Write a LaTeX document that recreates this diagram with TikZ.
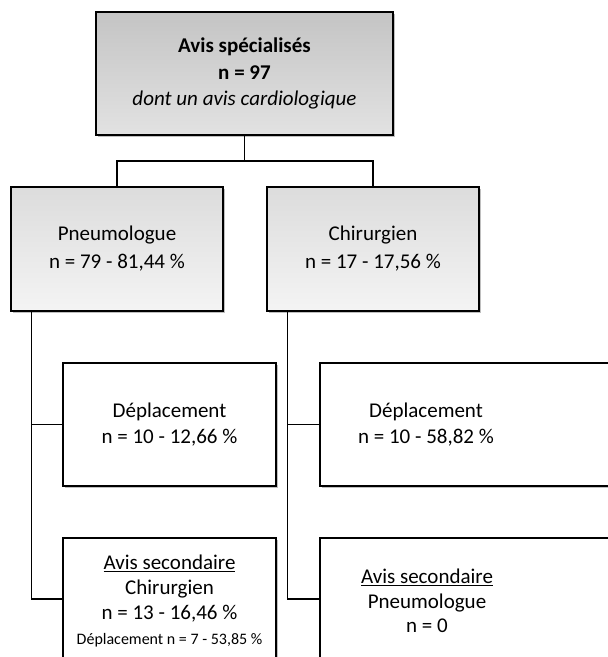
\documentclass[tikz,border=0pt]{standalone}
\usepackage{fontspec}
\setmainfont{Carlito}
\usetikzlibrary{shadows}
\definecolor{topA}{HTML}{C4C4C4}
\definecolor{topB}{HTML}{E2E2E2}
\definecolor{midA}{HTML}{DCDCDC}
\definecolor{midB}{HTML}{F4F4F4}
\tikzset{
  base/.style={draw=black, line width=1.5pt, rectangle, align=center,
    inner sep=0pt, font=\fontsize{21}{28}\selectfont,
    drop shadow={shadow xshift=1.5pt, shadow yshift=-1.5pt, opacity=0.25, fill=black}},
  topbox/.style={base, top color=topA, bottom color=topB, minimum width=297pt, minimum height=123pt, font=\fontsize{21}{26.5}\selectfont},
  midbox/.style={base, top color=midA, bottom color=midB, minimum width=212pt, minimum height=124pt},
  lowbox/.style={base, fill=white, minimum height=123pt},
  txt/.style={align=center, inner sep=0pt, font=\fontsize{21}{26}\selectfont},
  conn/.style={draw=black, line width=1.5pt}
}
\begin{document}
\begin{tikzpicture}[x=1pt, y=-1pt]
\useasboundingbox (0,0) rectangle (608,657);
\begin{scope}
\clip (0,0) rectangle (608,657);
\node[topbox] (top) at (244.5,73.5) {\textbf{Avis spécialisés}\\ \textbf{n = 97}\\ \textit{dont un avis cardiologique}};
\node[midbox] (pn) at (117,249) {Pneumologue\\ n = 79 - 81,44 \%};
\node[midbox] (ch) at (373,249) {Chirurgien\\ n = 17 - 17,56 \%};
\node[lowbox, minimum width=213pt, font=\fontsize{21}{26.5}\selectfont] (depL) at (169.5,424.5) {Déplacement\\ n = 10 - 12,66 \%};
\node[lowbox, minimum width=300pt] (depR) at (470,424.5) {};
\node[txt, font=\fontsize{21}{26.5}\selectfont] (depRt) at (426,424.5) {Déplacement\\ n = 10 - 58,82 \%};
\node[lowbox, minimum width=213pt, minimum height=126pt, font=\fontsize{21}{25}\selectfont] (secL) at (169.5,601) {\underline{Avis secondaire}\\ Chirurgien\\ n = 13 - 16,46 \%\\ {\fontsize{16}{22}\selectfont Déplacement n = 7 - 53,85 \%}};
\node[lowbox, minimum width=300pt, minimum height=126pt] (secR) at (470,601) {};
\node[txt, font=\fontsize{21}{24.5}\selectfont] (secRt) at (427,601) {\underline{Avis secondaire}\\ Pneumologue\\ n = 0};
\end{scope}
\coordinate (jT) at (244.5,161);
\draw[conn] (top.south) -- (jT);
\draw[conn] (pn.north) |- (jT) -| (ch.north);
\draw[conn] ([xshift=21pt]pn.south west) |- (depL.west);
\draw[conn] ([xshift=21pt]pn.south west) |- ([yshift=2pt]secL.west);
\draw[conn] ([xshift=21pt]ch.south west) |- (depR.west);
\draw[conn] ([xshift=21pt]ch.south west) |- ([yshift=2pt]secR.west);
\end{tikzpicture}
\end{document}
